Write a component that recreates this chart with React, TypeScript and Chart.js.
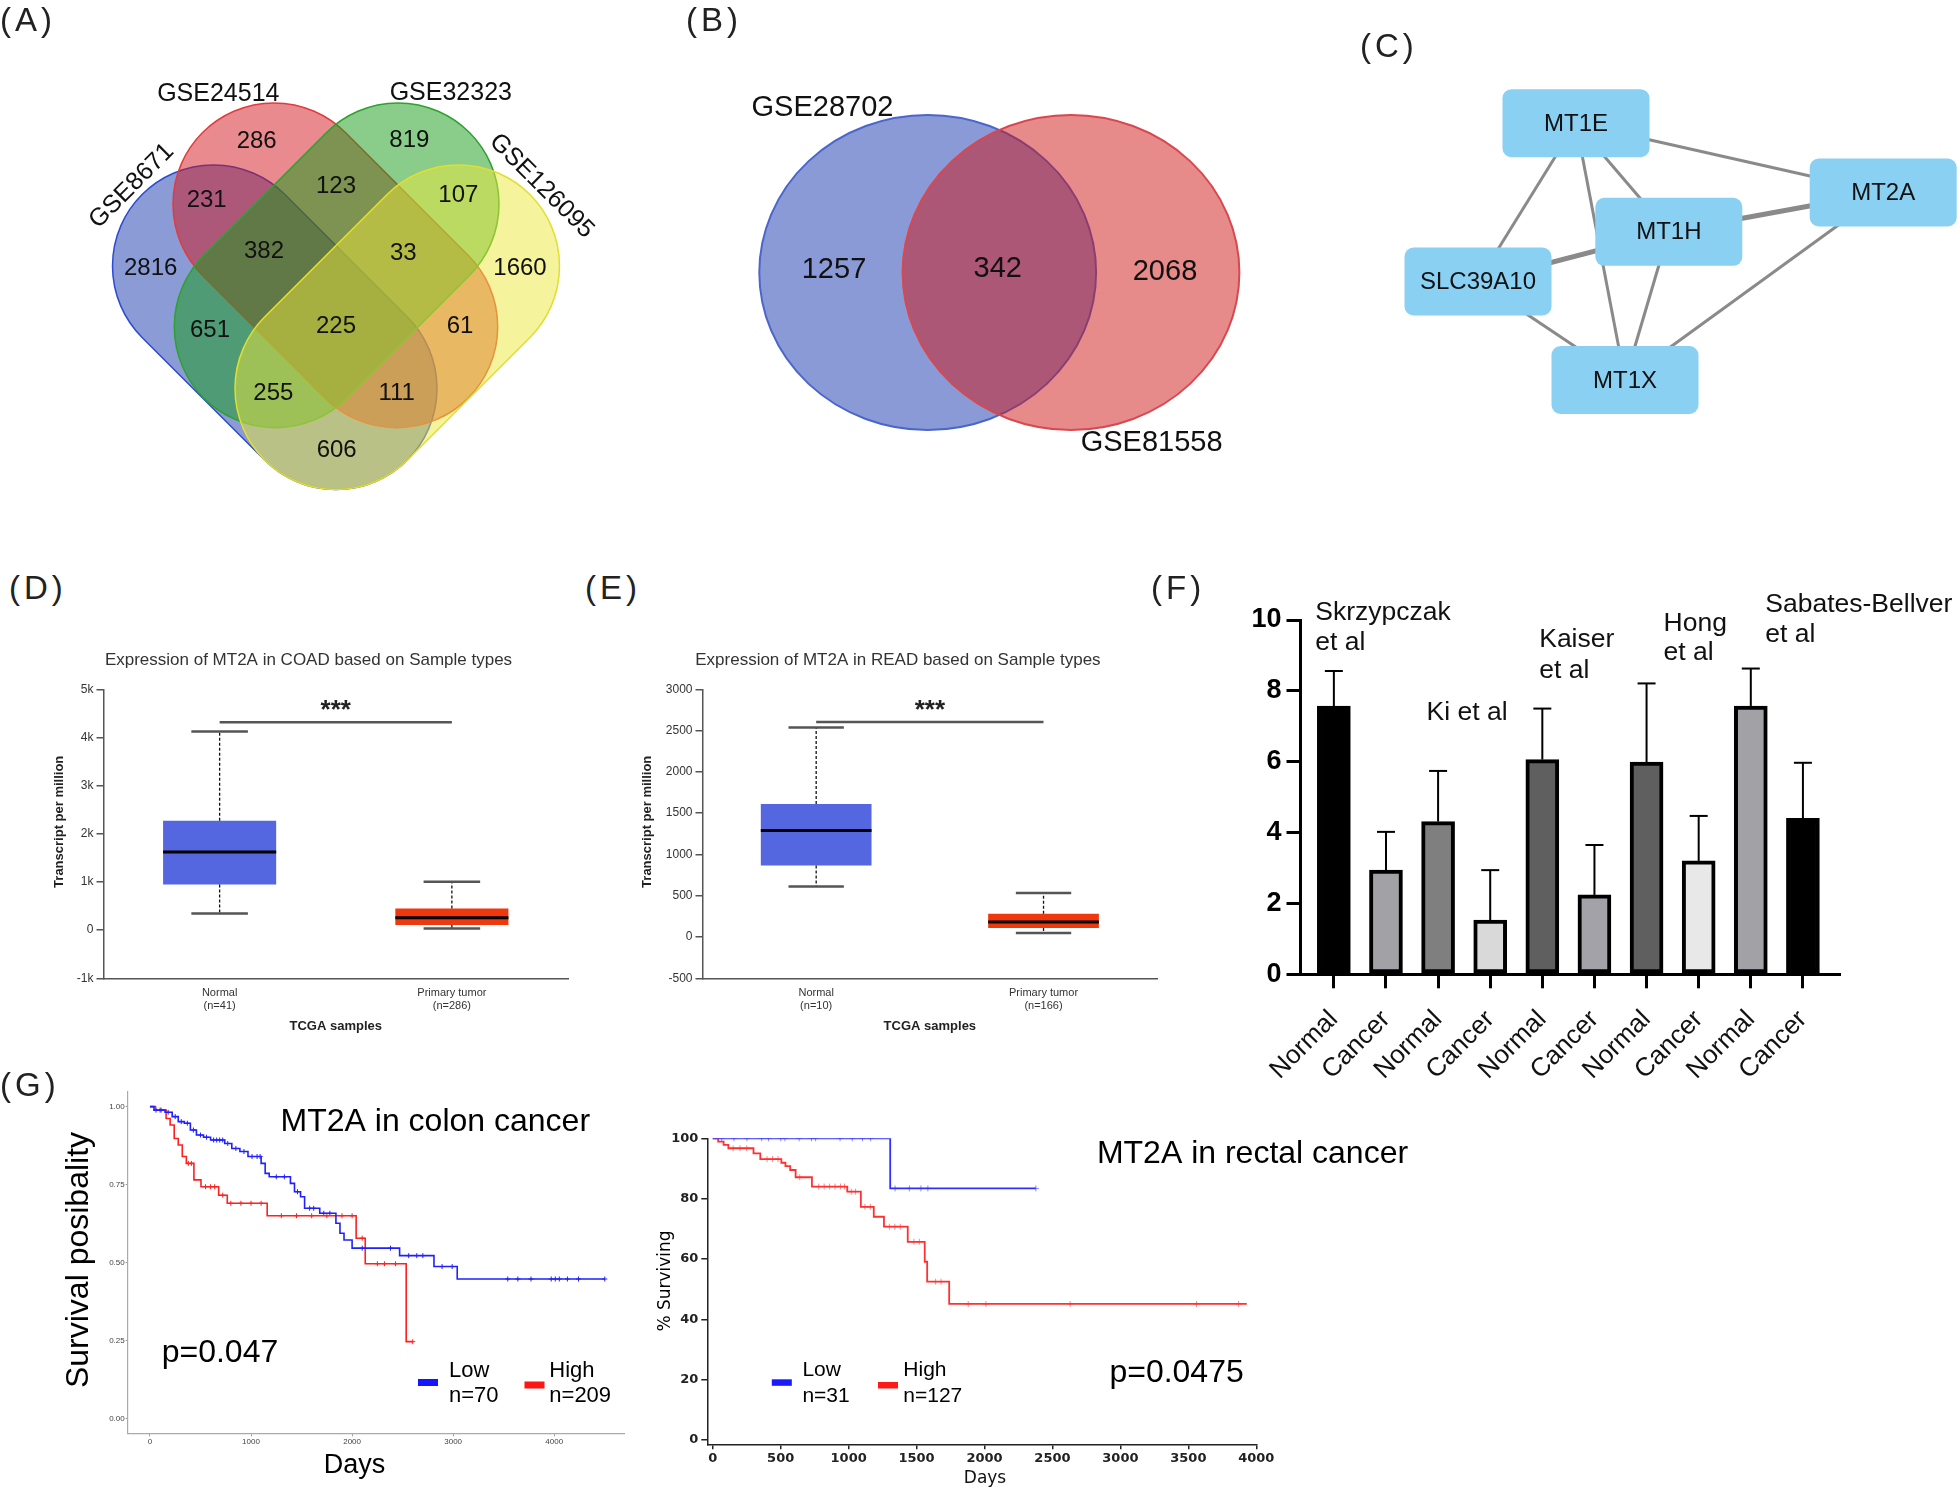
import React, { useEffect, useRef } from "react";
import { Chart, registerables } from "chart.js";

Chart.register(...registerables);

const SANS = "'Liberation Sans', Arial, Helvetica, sans-serif";
const DJV = "'DejaVu Sans', Verdana, sans-serif";
Chart.defaults.font.family = SANS;

/* ====================== DATA ====================== */
// (A) four-set Venn
const vennASets = ["GSE8671", "GSE24514", "GSE32323", "GSE126095"];
const vennARegions = ["1", "2", "3", "4", "12", "23", "34", "123", "234", "13", "1234", "24", "134", "124", "14"];
const vennACounts = [2816, 286, 819, 1660, 231, 123, 107, 382, 33, 651, 225, 61, 255, 111, 606];

// (B) two-set Venn
const vennBSets = ["GSE28702", "GSE81558"];
const vennBCounts = [1257, 342, 2068];

// (C) PPI network
const ppiNodes = ["MT1E", "MT2A", "MT1H", "SLC39A10", "MT1X"];
const ppiEdgeFrom = ["MT1E", "MT1E", "MT1E", "MT1E", "MT1H", "MT1H", "MT1H", "SLC39A10", "MT2A"];
const ppiEdgeTo = ["MT2A", "SLC39A10", "MT1X", "MT1H", "MT2A", "SLC39A10", "MT1X", "MT1X", "MT1X"];
const ppiEdgeScore = [1, 1, 1, 1, 2, 2, 1, 1, 1];

// (D) COAD boxplot
const boxCatsD = [["Normal", "(n=41)"], ["Primary tumor", "(n=286)"]];
const boxMinD = [347, 35];
const boxQ1D = [950, 104];
const boxMedD = [1622, 256];
const boxQ3D = [2272, 451];
const boxMaxD = [4123, 1004];
const sigD = 4318;
const yTicksD = [-1000, 0, 1000, 2000, 3000, 4000, 5000];

// (E) READ boxplot
const boxCatsE = [["Normal", "(n=10)"], ["Primary tumor", "(n=166)"]];
const boxMinE = [613, 48];
const boxQ1E = [867, 109];
const boxMedE = [1290, 182];
const boxQ3E = [1610, 282];
const boxMaxE = [2537, 533];
const sigE = 2603;
const yTicksE = [-500, 0, 500, 1000, 1500, 2000, 2500, 3000];

// (F) bar chart with error bars
const fLabels = ["Normal", "Cancer", "Normal", "Cancer", "Normal", "Cancer", "Normal", "Cancer", "Normal", "Cancer"];
const fMeans = [7.57, 2.94, 4.31, 1.53, 6.06, 2.24, 5.99, 3.2, 7.57, 4.4];
const fErrTop = [8.56, 4.02, 5.74, 2.94, 7.5, 3.65, 8.21, 4.47, 8.63, 5.97];
const fStudies = [["Skrzypczak", "et al"], ["Ki et al"], ["Kaiser", "et al"], ["Hong", "et al"], ["Sabates-Bellver", "et al"]];
const fYTicks = [0, 2, 4, 6, 8, 10];

// (G) Kaplan-Meier, colon
const kmColonLow = [[0, 1], [40, 0.989], [150, 0.982], [220, 0.968], [280, 0.952], [340, 0.947], [400, 0.925], [460, 0.909], [530, 0.902], [600, 0.893], [740, 0.882], [810, 0.866], [890, 0.856], [970, 0.84], [1100, 0.818], [1140, 0.786], [1180, 0.775], [1390, 0.754], [1430, 0.727], [1490, 0.711], [1530, 0.674], [1680, 0.658], [1840, 0.626], [1880, 0.594], [1920, 0.572], [2000, 0.546], [2470, 0.522], [2810, 0.487], [3040, 0.447], [4500, 0.447]];
const kmColonLowCens = [[60, 0.989], [110, 0.989], [180, 0.982], [250, 0.968], [310, 0.952], [370, 0.947], [430, 0.925], [500, 0.909], [560, 0.902], [630, 0.893], [660, 0.893], [690, 0.893], [720, 0.893], [770, 0.882], [850, 0.866], [930, 0.856], [1010, 0.84], [1060, 0.84], [1090, 0.84], [1250, 0.775], [1330, 0.775], [1460, 0.727], [1580, 0.674], [1620, 0.674], [1720, 0.658], [1780, 0.658], [2100, 0.546], [2380, 0.546], [2560, 0.522], [2640, 0.522], [2700, 0.522], [2890, 0.487], [2990, 0.487], [3540, 0.447], [3640, 0.447], [3770, 0.447], [3970, 0.447], [4010, 0.447], [4050, 0.447], [4130, 0.447], [4240, 0.447], [4500, 0.447]];
const kmColonHigh = [[0, 1], [55, 0.989], [160, 0.962], [200, 0.941], [240, 0.898], [280, 0.877], [320, 0.84], [360, 0.818], [435, 0.765], [505, 0.743], [680, 0.716], [765, 0.69], [1160, 0.65], [2040, 0.578], [2130, 0.496], [2535, 0.246], [2600, 0.246]];
const kmColonHighCens = [[100, 0.989], [380, 0.818], [410, 0.818], [550, 0.743], [600, 0.743], [640, 0.743], [720, 0.716], [800, 0.69], [900, 0.69], [1000, 0.69], [1100, 0.69], [1300, 0.65], [1450, 0.65], [1600, 0.65], [1750, 0.65], [1900, 0.65], [2000, 0.65], [2100, 0.578], [2250, 0.496], [2320, 0.496], [2430, 0.496], [2600, 0.246]];
const kmColonXTicks = [0, 1000, 2000, 3000, 4000];
const kmColonYTicks = [0, 0.25, 0.5, 0.75, 1];

// (G) Kaplan-Meier, rectal
const kmRectLow = [[0, 100], [1306, 83.4], [2378, 83.4]];
const kmRectLowCens = [[66, 100], [156, 100], [252, 100], [360, 100], [411, 100], [501, 100], [531, 100], [636, 100], [727, 100], [757, 100], [937, 100], [1027, 100], [1102, 100], [1162, 100], [1342, 83.4], [1447, 83.4], [1532, 83.4], [1583, 83.4], [2378, 83.4]];
const kmRectHigh = [[0, 100], [40, 98.9], [80, 97.8], [115, 96.7], [300, 95.0], [350, 93.1], [505, 91.9], [535, 90.8], [570, 89.5], [610, 87.1], [730, 84.0], [990, 82.3], [1090, 77.3], [1185, 74.0], [1260, 70.7], [1435, 65.7], [1560, 59.1], [1578, 52.5], [1740, 45.1], [3930, 45.1]];
const kmRectHighCens = [[150, 96.7], [200, 96.7], [250, 96.7], [400, 93.1], [440, 93.1], [480, 93.1], [640, 87.1], [780, 84.0], [820, 84.0], [860, 84.0], [900, 84.0], [940, 84.0], [970, 84.0], [1020, 82.3], [1050, 82.3], [1120, 77.3], [1160, 77.3], [1300, 70.7], [1340, 70.7], [1380, 70.7], [1480, 65.7], [1520, 65.7], [1640, 52.5], [1680, 52.5], [1880, 45.1], [2010, 45.1], [2630, 45.1], [3560, 45.1], [3870, 45.1]];
const kmRectXTicks = [0, 500, 1000, 1500, 2000, 2500, 3000, 3500, 4000];
const kmRectYTicks = [0, 20, 40, 60, 80, 100];

/* ====================== LAYOUT / STYLE ====================== */
const boxA = { left: 0, top: 0, w: 620, h: 520 };
const boxB = { left: 700, top: 0, w: 600, h: 500 };
const boxC = { left: 1340, top: 0, w: 620, h: 440 };
const boxD = { left: 0, top: 640, w: 580, h: 410 };
const boxE = { left: 580, top: 640, w: 590, h: 410 };
const boxF = { left: 1140, top: 560, w: 820, h: 540 };
const boxG1 = { left: 0, top: 1080, w: 640, h: 410 };
const boxG2 = { left: 640, top: 1110, w: 800, h: 380 };

// stadium-shaped set outlines: end-cap centres and radius
const vennAShapes = [
  { x1: 213.5, y1: 266, x2: 336, y2: 388.5, r: 101 },
  { x1: 274, y1: 204, x2: 396.7, y2: 326.7, r: 101 },
  { x1: 398, y1: 204, x2: 275.3, y2: 326.7, r: 101 },
  { x1: 458.5, y1: 266, x2: 336, y2: 388.5, r: 101 },
];
const vennAFill = ["rgba(21,55,173,0.5)", "rgba(209,21,29,0.5)", "rgba(21,155,21,0.5)", "rgba(235,231,57,0.5)"];
const vennAStroke = ["#2a4bd0", "#e03c3c", "#2ea12e", "#e2de30"];
const vennALabelPos = [[150.7, 268.3], [256.7, 141.7], [409.3, 140], [520, 268.3], [206.7, 200], [336, 186], [458.3, 195], [264, 251.7], [403.3, 253.3], [210, 330], [336, 326.7], [460, 326.7], [273.3, 393.3], [396.7, 393.3], [336.7, 450]];
const vennASetLabelPos = [[131.7, 186, -45], [218.3, 94, 0], [450.8, 93, 0], [541.5, 186, 45]];

const vennBShapes = [
  { cx: 227.7, cy: 272.5, rx: 168.4, ry: 157.5 },
  { cx: 371, cy: 272.5, rx: 168.4, ry: 157.5 },
];
const vennBFill = ["rgba(21,53,173,0.5)", "rgba(205,21,21,0.5)"];
const vennBStroke = ["#4a66cc", "#d9474f"];
const vennBLabelPos = [[134, 270], [297.7, 269], [465, 272]];
const vennBSetLabelPos = [[122.5, 108], [451.6, 443]];

const ppiNodePos = [[236, 123.2], [543.2, 192.5], [328.8, 231.8], [138, 281.5], [285, 380]];

const fColors = ["#000000", "#a2a2a6", "#7f7f7f", "#d9d9d9", "#5f5f5f", "#a2a2a8", "#5f5f5f", "#e8e8e8", "#a2a2a6", "#000000"];
const fStudyPos = [[175.3, [60, 90]], [286.5, [160]], [399.2, [87.3, 118.3]], [523.6, [70.7, 100]], [625.3, [51.7, 81.7]]];

/* ====================== HELPERS ====================== */
type Txt = { t: string; x: number; y: number; size: number; w?: string; c?: string; al?: CanvasTextAlign; bl?: CanvasTextBaseline; rot?: number; f?: string };
function drawTexts(ctx: CanvasRenderingContext2D, items: Txt[]) {
  for (const it of items) {
    ctx.save();
    ctx.font = `${it.w || "normal"} ${it.size}px ${it.f || SANS}`;
    ctx.fillStyle = it.c || "#000";
    ctx.textAlign = it.al || "center";
    ctx.textBaseline = it.bl || "alphabetic";
    ctx.translate(it.x, it.y);
    if (it.rot) ctx.rotate((it.rot * Math.PI) / 180);
    ctx.fillText(it.t, 0, 0);
    ctx.restore();
  }
}
function line(ctx: CanvasRenderingContext2D, x1: number, y1: number, x2: number, y2: number) {
  ctx.beginPath();
  ctx.moveTo(x1, y1);
  ctx.lineTo(x2, y2);
  ctx.stroke();
}
const noUi = { legend: { display: false }, tooltip: { enabled: false } };
const hiddenScales = (w: number, h: number) => ({
  x: { type: "linear", display: false, min: 0, max: w },
  y: { type: "linear", display: false, min: 0, max: h, reverse: true },
});

function ChartCanvas({ box, build }: { box: { left: number; top: number; w: number; h: number }; build: () => any }) {
  const ref = useRef<HTMLCanvasElement | null>(null);
  useEffect(() => {
    if (!ref.current) return;
    const chart = new Chart(ref.current, build());
    return () => chart.destroy();
  }, []);
  return (
    <div style={{ position: "absolute", left: box.left, top: box.top, width: box.w, height: box.h }}>
      <canvas ref={ref} width={box.w} height={box.h} style={{ width: box.w, height: box.h, display: "block" }} />
    </div>
  );
}

/* ====================== PANEL BUILDERS ====================== */
function buildA() {
  const plugin = {
    id: "vennA",
    beforeDatasetsDraw(chart: any) {
      const { ctx, scales } = chart;
      const unit = scales.x.getPixelForValue(1) - scales.x.getPixelForValue(0);
      ctx.save();
      vennAShapes.forEach((s, i) => {
        const x1 = scales.x.getPixelForValue(s.x1), y1 = scales.y.getPixelForValue(s.y1);
        const x2 = scales.x.getPixelForValue(s.x2), y2 = scales.y.getPixelForValue(s.y2);
        const r = s.r * unit;
        const th = Math.atan2(y2 - y1, x2 - x1);
        ctx.beginPath();
        ctx.arc(x2, y2, r, th - Math.PI / 2, th + Math.PI / 2);
        ctx.arc(x1, y1, r, th + Math.PI / 2, th + (3 * Math.PI) / 2);
        ctx.closePath();
        ctx.fillStyle = vennAFill[i];
        ctx.fill();
        ctx.strokeStyle = vennAStroke[i];
        ctx.lineWidth = 1.5;
        ctx.stroke();
      });
      ctx.restore();
    },
    afterDatasetsDraw(chart: any) {
      const { ctx, scales } = chart;
      const pts = chart.getDatasetMeta(0).data;
      drawTexts(ctx, vennACounts.map((c, i) => ({ t: String(c), x: pts[i].x, y: pts[i].y, size: 24, bl: "middle" as CanvasTextBaseline, c: "#111" })));
      drawTexts(ctx, vennASets.map((s, i) => ({ t: s, x: scales.x.getPixelForValue(vennASetLabelPos[i][0]), y: scales.y.getPixelForValue(vennASetLabelPos[i][1]), size: 25, bl: "middle" as CanvasTextBaseline, rot: vennASetLabelPos[i][2], c: "#111" })));
    },
  };
  return {
    type: "scatter",
    data: { datasets: [{ label: "regions", data: vennALabelPos.map(([x, y], i) => ({ x, y, r: vennARegions[i] })), pointRadius: 0 }] },
    options: { responsive: false, animation: false, events: [], layout: { padding: 0, autoPadding: false }, plugins: noUi, scales: hiddenScales(boxA.w, boxA.h) },
    plugins: [plugin],
  };
}

function buildB() {
  const plugin = {
    id: "vennB",
    beforeDatasetsDraw(chart: any) {
      const { ctx, scales } = chart;
      const unit = scales.x.getPixelForValue(1) - scales.x.getPixelForValue(0);
      ctx.save();
      vennBShapes.forEach((s, i) => {
        ctx.beginPath();
        ctx.ellipse(scales.x.getPixelForValue(s.cx), scales.y.getPixelForValue(s.cy), s.rx * unit, s.ry * unit, 0, 0, Math.PI * 2);
        ctx.fillStyle = vennBFill[i];
        ctx.fill();
        ctx.strokeStyle = vennBStroke[i];
        ctx.lineWidth = 2;
        ctx.stroke();
      });
      ctx.restore();
    },
    afterDatasetsDraw(chart: any) {
      const { ctx, scales } = chart;
      const pts = chart.getDatasetMeta(0).data;
      drawTexts(ctx, vennBCounts.map((c, i) => ({ t: String(c), x: pts[i].x, y: pts[i].y, size: 29, bl: "middle" as CanvasTextBaseline, c: "#111" })));
      drawTexts(ctx, vennBSets.map((s, i) => ({ t: s, x: scales.x.getPixelForValue(vennBSetLabelPos[i][0]), y: scales.y.getPixelForValue(vennBSetLabelPos[i][1]), size: 29, bl: "middle" as CanvasTextBaseline, c: "#111" })));
    },
  };
  return {
    type: "scatter",
    data: { datasets: [{ data: vennBLabelPos.map(([x, y]) => ({ x, y })), pointRadius: 0 }] },
    options: { responsive: false, animation: false, events: [], layout: { padding: 0, autoPadding: false }, plugins: noUi, scales: hiddenScales(boxB.w, boxB.h) },
    plugins: [plugin],
  };
}

function buildC() {
  const pos = (name: string) => {
    const i = ppiNodes.indexOf(name);
    return { x: ppiNodePos[i][0], y: ppiNodePos[i][1] };
  };
  const edgeSets = ppiEdgeFrom.map((f, k) => ({
    data: [pos(f), pos(ppiEdgeTo[k])],
    showLine: true,
    borderColor: "#8a8a8a",
    borderWidth: ppiEdgeScore[k] > 1 ? 5 : 3,
    pointRadius: 0,
  }));
  const plugin = {
    id: "ppiNodes",
    afterDatasetsDraw(chart: any) {
      const { ctx } = chart;
      const meta = chart.getDatasetMeta(chart.data.datasets.length - 1).data;
      ctx.save();
      meta.forEach((p: any) => {
        const w = 147, h = 68;
        ctx.beginPath();
        ctx.roundRect(p.x - w / 2, p.y - h / 2, w, h, 9);
        ctx.fillStyle = "#8ad0f2";
        ctx.fill();
      });
      ctx.restore();
      drawTexts(ctx, ppiNodes.map((n, i) => ({ t: n, x: meta[i].x, y: meta[i].y + 1, size: 24, bl: "middle" as CanvasTextBaseline, c: "#111" })));
    },
  };
  return {
    type: "scatter",
    data: { datasets: [...edgeSets, { data: ppiNodePos.map(([x, y]) => ({ x, y })), pointRadius: 0 }] },
    options: { responsive: false, animation: false, events: [], layout: { padding: 0, autoPadding: false }, plugins: noUi, scales: hiddenScales(boxC.w, boxC.h) },
    plugins: [plugin],
  };
}

function buildBox(p: any) {
  const plugin = {
    id: "boxWhisk",
    afterDatasetsDraw(chart: any) {
      const { ctx, scales, chartArea } = chart;
      const py = (v: number) => scales.y.getPixelForValue(v);
      const bars = chart.getDatasetMeta(0).data;
      ctx.save();
      bars.forEach((bar: any, i: number) => {
        const x = bar.x;
        const hw = bar.width / 2;
        ctx.strokeStyle = "#111";
        ctx.lineWidth = 1.3;
        ctx.setLineDash([3, 2]);
        line(ctx, x, py(p.q3[i]), x, py(p.max[i]));
        line(ctx, x, py(p.q1[i]), x, py(p.min[i]));
        ctx.setLineDash([]);
        ctx.strokeStyle = "#555";
        ctx.lineWidth = 2.5;
        line(ctx, x - hw * 0.5, py(p.max[i]), x + hw * 0.5, py(p.max[i]));
        line(ctx, x - hw * 0.5, py(p.min[i]), x + hw * 0.5, py(p.min[i]));
        ctx.strokeStyle = "#000";
        ctx.lineWidth = 3;
        line(ctx, x - hw, py(p.med[i]), x + hw, py(p.med[i]));
      });
      const x0 = bars[0].x, x1 = bars[1].x;
      ctx.strokeStyle = "#555";
      ctx.lineWidth = 2.5;
      line(ctx, x0, py(p.sig), x1, py(p.sig));
      ctx.restore();
      const cx = (chartArea.left + chartArea.right) / 2;
      drawTexts(ctx, [
        { t: "***", x: (x0 + x1) / 2, y: py(p.sig) - 4, size: 26, w: "bold", c: "#222" },
        { t: p.title, x: p.titleX, y: 25, size: 17, c: "#333" },
        { t: "Transcript per million", x: p.yTitleX, y: (chartArea.top + chartArea.bottom) / 2 - 12, size: 13, w: "bold", rot: -90, bl: "middle", c: "#222" },
        { t: "TCGA samples", x: cx, y: 390, size: 13, w: "bold", c: "#222" },
      ]);
    },
  };
  return {
    type: "bar",
    data: {
      labels: p.cats,
      datasets: [{ data: p.q1.map((v: number, i: number) => [v, p.q3[i]]), backgroundColor: ["#5567e0", "#f0380f"], borderWidth: 0, barPercentage: 0.487, categoryPercentage: 1 }],
    },
    options: {
      responsive: false,
      animation: false,
      events: [],
      layout: { padding: { top: 49.3, right: p.padRight, left: 0, bottom: 0 }, autoPadding: false },
      plugins: noUi,
      scales: {
        x: {
          grid: { display: false },
          border: { display: true, color: "#555", width: 1.5 },
          ticks: { color: "#333", font: { size: 11 }, padding: 0, maxRotation: 0, autoSkip: false },
          afterFit: (s: any) => { s.height = 71.7; },
        },
        y: {
          min: p.yMin,
          max: p.yMax,
          afterBuildTicks: (s: any) => { s.ticks = p.yTicks.map((v: number) => ({ value: v })); },
          ticks: { callback: p.fmt, color: "#333", font: { size: 12 }, padding: 3 },
          grid: { drawOnChartArea: false, drawTicks: true, tickLength: 7, color: "#555", lineWidth: 1.5 },
          border: { color: "#555", width: 1.5 },
          afterFit: (s: any) => { s.width = p.axisW; },
        },
      },
    },
    plugins: [plugin],
  };
}

function buildF() {
  const plugin = {
    id: "errBars",
    afterDatasetsDraw(chart: any) {
      const { ctx, scales } = chart;
      const bars = chart.getDatasetMeta(0).data;
      ctx.save();
      ctx.strokeStyle = "#000";
      ctx.lineWidth = 2;
      bars.forEach((bar: any, i: number) => {
        const yTop = scales.y.getPixelForValue(fErrTop[i]);
        line(ctx, bar.x, bar.y, bar.x, yTop);
        line(ctx, bar.x - 9, yTop, bar.x + 9, yTop);
      });
      ctx.restore();
      const items: Txt[] = [];
      fStudies.forEach((lines, k) => {
        lines.forEach((t, j) => items.push({ t, x: fStudyPos[k][0] as number, y: (fStudyPos[k][1] as number[])[j], size: 26.5, al: "left", c: "#111" }));
      });
      drawTexts(ctx, items);
    },
  };
  return {
    type: "bar",
    data: {
      datasets: [{
        data: fMeans.map((v, i) => ({ x: i, y: v })),
        backgroundColor: fColors,
        borderColor: "#000",
        borderWidth: 4,
        borderSkipped: false,
        barThickness: 33,
      }],
    },
    options: {
      responsive: false,
      animation: false,
      events: [],
      layout: { padding: { top: 60, right: 120.6, left: 0, bottom: 0 }, autoPadding: false },
      plugins: noUi,
      scales: {
        x: {
          type: "linear",
          offset: false,
          min: -0.64,
          max: 9.7,
          afterBuildTicks: (s: any) => { s.ticks = fLabels.map((_, i) => ({ value: i })); },
          ticks: { callback: (v: number) => fLabels[v] ?? "", color: "#111", font: { size: 26 }, minRotation: 45, maxRotation: 45, autoSkip: false, padding: 16 },
          grid: { offset: false, drawOnChartArea: false, drawTicks: true, tickLength: 14, color: "#000", lineWidth: 3 },
          border: { color: "#000", width: 3 },
          afterFit: (s: any) => { s.height = 125.7; },
        },
        y: {
          min: 0,
          max: 10,
          afterBuildTicks: (s: any) => { s.ticks = fYTicks.map((v) => ({ value: v })); },
          ticks: { color: "#000", font: { size: 27, weight: "bold" }, padding: 5 },
          grid: { drawOnChartArea: false, drawTicks: true, tickLength: 14, color: "#000", lineWidth: 3 },
          border: { color: "#000", width: 3 },
          afterFit: (s: any) => { s.width = 160.5; },
        },
      },
    },
    plugins: [plugin],
  };
}

const toXY = (arr: number[][]) => arr.map(([x, y]) => ({ x, y }));

function buildG1() {
  const plugin = {
    id: "g1text",
    afterDraw(chart: any) {
      const { ctx } = chart;
      ctx.save();
      ctx.fillStyle = "#1515ff";
      ctx.fillRect(418, 299, 20, 7);
      ctx.fillStyle = "#ff1515";
      ctx.fillRect(524.5, 301.5, 20, 7);
      ctx.restore();
      drawTexts(ctx, [
        { t: "MT2A in colon cancer", x: 435.3, y: 50.7, size: 32 },
        { t: "p=0.047", x: 161.7, y: 281.7, size: 32, al: "left" },
        { t: "Low", x: 449, y: 296.7, size: 22, al: "left" },
        { t: "n=70", x: 449, y: 321.7, size: 22, al: "left" },
        { t: "High", x: 549.3, y: 296.7, size: 22, al: "left" },
        { t: "n=209", x: 549.3, y: 321.7, size: 22, al: "left" },
        { t: "Survival posibality", x: 78.8, y: 180, size: 32, rot: -90, bl: "middle" },
        { t: "Days", x: 354.5, y: 393.3, size: 27 },
      ]);
    },
  };
  const km = (data: number[][], color: string) => ({ data: toXY(data), showLine: true, stepped: true, borderColor: color, borderWidth: 1.6, pointRadius: 0 });
  const cens = (data: number[][], color: string) => ({ data: toXY(data), showLine: false, pointStyle: "cross", pointRadius: 2.5, borderColor: color, borderWidth: 1, backgroundColor: color });
  return {
    type: "scatter",
    data: { datasets: [km(kmColonLow, "#2020ff"), km(kmColonHigh, "#ff2020"), cens(kmColonLowCens, "#2020ff"), cens(kmColonHighCens, "#ff2020")] },
    options: {
      responsive: false,
      animation: false,
      events: [],
      layout: { padding: { top: 11.7, right: 16, left: 0, bottom: 0 }, autoPadding: false },
      plugins: noUi,
      scales: {
        x: {
          type: "linear", min: -220, max: 4690,
          afterBuildTicks: (s: any) => { s.ticks = kmColonXTicks.map((v) => ({ value: v })); },
          ticks: { color: "#444", font: { size: 8 }, padding: 1, callback: (v: number) => String(v) },
          grid: { drawOnChartArea: false, drawTicks: true, tickLength: 3, color: "#999", lineWidth: 1 },
          border: { color: "#aaa", width: 1.2 },
          afterFit: (s: any) => { s.height = 56.7; },
        },
        y: {
          type: "linear", min: -0.048, max: 1.048,
          afterBuildTicks: (s: any) => { s.ticks = kmColonYTicks.map((v) => ({ value: v })); },
          ticks: { color: "#444", font: { size: 8 }, padding: 1, callback: (v: number) => v.toFixed(2) },
          grid: { drawOnChartArea: false, drawTicks: true, tickLength: 2, color: "#999", lineWidth: 1 },
          border: { color: "#aaa", width: 1.2 },
          afterFit: (s: any) => { s.width = 127.7; },
        },
      },
    },
    plugins: [plugin],
  };
}

function buildG2() {
  const plugin = {
    id: "g2text",
    afterDraw(chart: any) {
      const { ctx } = chart;
      ctx.save();
      ctx.fillStyle = "#1a1aff";
      ctx.fillRect(131.8, 269.3, 20, 6.5);
      ctx.fillStyle = "#ff1a1a";
      ctx.fillRect(238, 272, 20, 6.5);
      ctx.restore();
      drawTexts(ctx, [
        { t: "MT2A in rectal cancer", x: 612.5, y: 52.7, size: 32 },
        { t: "p=0.0475", x: 469.4, y: 271.7, size: 32, al: "left" },
        { t: "Low", x: 162.4, y: 266, size: 21, al: "left" },
        { t: "n=31", x: 162.4, y: 291.7, size: 21, al: "left" },
        { t: "High", x: 263.3, y: 266, size: 21, al: "left" },
        { t: "n=127", x: 263.3, y: 291.7, size: 21, al: "left" },
        { t: "% Surviving", x: 25.3, y: 171, size: 17, rot: -90, bl: "middle", f: DJV },
        { t: "Days", x: 345, y: 373.3, size: 17, f: DJV, c: "#111" },
      ]);
    },
  };
  const km = (data: number[][], color: string) => ({ data: toXY(data), showLine: true, stepped: true, borderColor: color, borderWidth: 1.8, pointRadius: 0 });
  const cens = (data: number[][], color: string) => ({ data: toXY(data), showLine: false, pointStyle: "cross", pointRadius: 3, borderColor: color, borderWidth: 1, backgroundColor: color });
  return {
    type: "scatter",
    data: { datasets: [km(kmRectLow, "#3030ff"), km(kmRectHigh, "#ff3030"), cens(kmRectLowCens, "rgba(60,60,255,0.6)"), cens(kmRectHighCens, "rgba(255,60,60,0.6)")] },
    options: {
      responsive: false,
      animation: false,
      events: [],
      layout: { padding: { top: 28.3, right: 183.7, left: 0, bottom: 0 }, autoPadding: false },
      plugins: noUi,
      scales: {
        x: {
          type: "linear", min: -40, max: 4000,
          afterBuildTicks: (s: any) => { s.ticks = kmRectXTicks.map((v) => ({ value: v })); },
          ticks: { color: "#222", font: { size: 13, weight: "bold", family: DJV }, padding: 2, callback: (v: number) => String(v) },
          grid: { drawOnChartArea: false, drawTicks: true, tickLength: 5, color: "#222", lineWidth: 1.5 },
          border: { color: "#222", width: 1.5 },
          afterFit: (s: any) => { s.height = 45.7; },
        },
        y: {
          type: "linear", min: -1.4, max: 100,
          afterBuildTicks: (s: any) => { s.ticks = kmRectYTicks.map((v) => ({ value: v })); },
          ticks: { color: "#222", font: { size: 13, weight: "bold", family: DJV }, padding: 3, callback: (v: number) => String(v) },
          grid: { drawOnChartArea: false, drawTicks: true, tickLength: 6, color: "#222", lineWidth: 1.5 },
          border: { color: "#222", width: 1.5 },
          afterFit: (s: any) => { s.width = 67.3; },
        },
      },
    },
    plugins: [plugin],
  };
}

const panelLabels = [
  { t: "(A)", left: 0, top: 3 },
  { t: "(B)", left: 686, top: 3 },
  { t: "(C)", left: 1360, top: 29 },
  { t: "(D)", left: 9, top: 571 },
  { t: "(E)", left: 585, top: 571 },
  { t: "(F)", left: 1151, top: 571 },
  { t: "(G)", left: 0, top: 1068 },
];

export default function App() {
  useEffect(() => {
    document.body.style.margin = "0";
  }, []);
  return (
    <div style={{ position: "absolute", left: 0, top: 0, width: 1960, height: 1490, background: "#fff", overflow: "hidden", fontFamily: SANS }}>
      <ChartCanvas box={boxA} build={buildA} />
      <ChartCanvas box={boxB} build={buildB} />
      <ChartCanvas box={boxC} build={buildC} />
      <ChartCanvas
        box={boxD}
        build={() =>
          buildBox({
            cats: boxCatsD, q1: boxQ1D, q3: boxQ3D, med: boxMedD, min: boxMinD, max: boxMaxD, sig: sigD,
            yMin: -1000, yMax: 5000, yTicks: yTicksD, fmt: (v: number) => (v === 0 ? "0" : `${v / 1000}k`),
            axisW: 103.5, padRight: 12, title: "Expression of MT2A in COAD based on Sample types", titleX: 308.5, yTitleX: 59.4,
          })
        }
      />
      <ChartCanvas
        box={boxE}
        build={() =>
          buildBox({
            cats: boxCatsE, q1: boxQ1E, q3: boxQ3E, med: boxMedE, min: boxMinE, max: boxMaxE, sig: sigE,
            yMin: -500, yMax: 3000, yTicks: yTicksE, fmt: (v: number) => String(v),
            axisW: 122.5, padRight: 12.8, title: "Expression of MT2A in READ based on Sample types", titleX: 317.9, yTitleX: 67.9,
          })
        }
      />
      <ChartCanvas box={boxF} build={buildF} />
      <ChartCanvas box={boxG1} build={buildG1} />
      <ChartCanvas box={boxG2} build={buildG2} />
      {panelLabels.map((p) => (
        <div key={p.t} style={{ position: "absolute", left: p.left, top: p.top, fontSize: 33, lineHeight: "33px", letterSpacing: 4, color: "#222", fontFamily: SANS }}>
          {p.t}
        </div>
      ))}
    </div>
  );
}
